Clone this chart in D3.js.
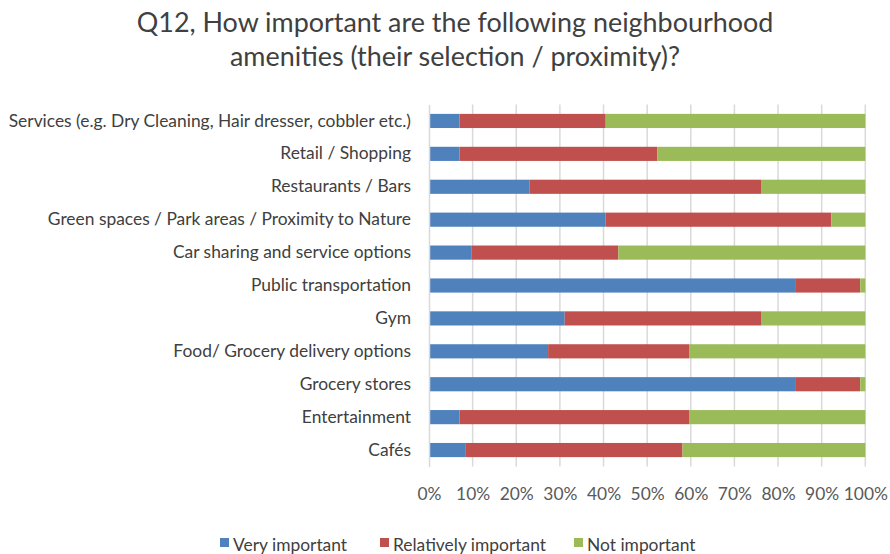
<!DOCTYPE html>
<html>
<head>
<meta charset="utf-8">
<script src="https://cdn.jsdelivr.net/npm/d3@7"></script>
<style>
  html, body { margin: 0; padding: 0; background: #fff; }
  svg { display: block; font-family: "Lato", "Open Sans", sans-serif; }
</style>
</head>
<body>
<svg id="chart" width="890" height="554"></svg>
<script>
// Amenity categories, top to bottom
const categories = [
  "Services (e.g. Dry Cleaning, Hair dresser, cobbler etc.)",
  "Retail / Shopping",
  "Restaurants / Bars",
  "Green spaces / Park areas / Proximity to Nature",
  "Car sharing and service options",
  "Public transportation",
  "Gym",
  "Food/ Grocery delivery options",
  "Grocery stores",
  "Entertainment",
  "Cafés"
];

// Share of respondents (%) per answer
const veryImportant       = [7.0, 7.0, 23.0, 40.5, 9.8, 84.1, 31.1, 27.3, 84.1, 7.0, 8.3];
const relativelyImportant = [33.5, 45.3, 53.1, 51.7, 33.6, 14.75, 45.0, 32.3, 14.75, 52.6, 49.8];
const notImportant        = [59.5, 47.7, 23.9, 7.8, 56.6, 1.15, 23.9, 40.4, 1.15, 40.4, 41.9];

const seriesNames = ["Very important", "Relatively important", "Not important"];
const seriesColors = ["#4F81BD", "#C0504D", "#9BBB59"];
const tickValues = [0, 10, 20, 30, 40, 50, 60, 70, 80, 90, 100];

const svg = d3.select("#chart");
const margin = { left: 429, right: 24.7, top: 104.5, bottom: 87.5 };
const W = 890, H = 554;

const x = d3.scaleLinear().domain([0, 100]).range([margin.left, W - margin.right]);
const y = d3.scaleBand().domain(categories).range([margin.top, H - margin.bottom]).paddingInner(0.57).paddingOuter(0.285);

const rows = categories.map((c, i) => ({
  category: c,
  "Very important": veryImportant[i],
  "Relatively important": relativelyImportant[i],
  "Not important": notImportant[i]
}));
const stacked = d3.stack().keys(seriesNames)(rows);

// Title
const title = svg.append("g").attr("fill", "#404040").attr("font-size", 26.9).attr("text-anchor", "middle");
title.append("text").attr("x", 455).attr("y", 32).text("Q12, How important are the following neighbourhood");
title.append("text").attr("x", 455).attr("y", 66).text("amenities (their selection / proximity)?");

// Vertical gridlines
svg.append("g")
  .selectAll("line")
  .data(tickValues.slice(1))
  .join("line")
  .attr("x1", d => x(d)).attr("x2", d => x(d))
  .attr("y1", margin.top).attr("y2", H - margin.bottom)
  .attr("stroke", "#D9D9D9").attr("stroke-width", 1.5);

// Bars
svg.append("g")
  .selectAll("g")
  .data(stacked)
  .join("g")
  .attr("fill", (d, i) => seriesColors[i])
  .selectAll("rect")
  .data(d => d)
  .join("rect")
  .attr("x", d => x(d[0]))
  .attr("width", d => x(d[1]) - x(d[0]))
  .attr("y", d => y(d.data.category))
  .attr("height", y.bandwidth());

// Category axis
const yAxis = svg.append("g")
  .attr("transform", `translate(${margin.left},0)`)
  .call(d3.axisLeft(y).tickSize(0).tickPadding(18));
yAxis.select(".domain").attr("stroke", "#D9D9D9").attr("stroke-width", 1.5);
yAxis.selectAll("text").attr("font-size", 17.4).attr("fill", "#404040").attr("font-family", "Lato, 'Open Sans', sans-serif");

// Percentage axis
const xAxis = svg.append("g")
  .attr("transform", `translate(0,${H - margin.bottom})`)
  .call(d3.axisBottom(x).tickValues(tickValues).tickFormat(d => d + "%").tickSize(0).tickPadding(21));
xAxis.select(".domain").remove();
xAxis.selectAll("text").attr("font-size", 17.4).attr("fill", "#595959").attr("font-family", "Lato, 'Open Sans', sans-serif");

// Legend
const legendX = [220, 380, 574];
const legend = svg.append("g");
seriesNames.forEach((name, i) => {
  legend.append("rect").attr("x", legendX[i]).attr("y", 538).attr("width", 9).attr("height", 9).attr("fill", seriesColors[i]);
  legend.append("text").attr("x", legendX[i] + 13).attr("y", 551)
    .attr("font-size", 17.4).attr("fill", "#404040").text(name);
});
</script>
</body>
</html>
